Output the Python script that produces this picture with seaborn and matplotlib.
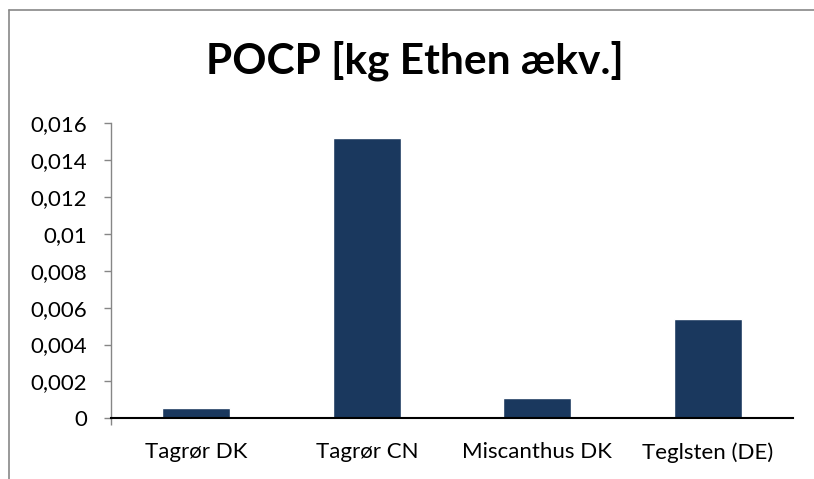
import numpy as np
import pandas as pd
import seaborn as sns
import matplotlib.pyplot as plt
from matplotlib.lines import Line2D

# data
categories = ["Tagrør DK", "Tagrør CN", "Miscanthus DK", "Teglsten (DE)"]
pocp_values = [0.00056, 0.0152, 0.00112, 0.00537]
y_ticks = [0, 0.002, 0.004, 0.006, 0.008, 0.01, 0.012, 0.014, 0.016]
y_tick_labels = ["0", "0,002", "0,004", "0,006", "0,008", "0,01", "0,012", "0,014", "0,016"]
title = "POCP [kg Ethen ækv.]"

bar_color = "#1a385e"
W, H = 814, 479

sns.set_style("white")
plt.rcParams["font.family"] = ["Lato", "DejaVu Sans"]

df = pd.DataFrame({"cat": categories, "val": pocp_values})

fig = plt.figure(figsize=(W / 100, H / 100), dpi=100)
ax = fig.add_axes([111 / W, 1 - 418.3 / H, (793 - 111) / W, (418.3 - 123.3) / H])

sns.barplot(data=df, x="cat", y="val", color=bar_color, width=0.4,
            saturation=1, ax=ax)

ax.set_ylim(0, 0.016)
ax.set_xlim(-0.5, len(categories) - 0.5)
ax.set_yticks(y_ticks)
ax.set_yticklabels(y_tick_labels)
ax.set_xlabel("")
ax.set_ylabel("")

for s in ["top", "right"]:
    ax.spines[s].set_visible(False)
ax.spines["left"].set_color("#868686")
ax.spines["left"].set_linewidth(1.0)
ax.spines["bottom"].set_color("black")
ax.spines["bottom"].set_linewidth(1.5)

ax.tick_params(axis="y", which="major", direction="out", length=5, width=1,
               color="#868686", labelsize=16, labelcolor="black", pad=12, left=True)
ax.tick_params(axis="x", which="major", length=0, labelsize=16,
               labelcolor="black", pad=17)
ax.set_xticks([-0.5], minor=True)
ax.tick_params(axis="x", which="minor", direction="out", length=5, width=1,
               color="#868686", bottom=True)

fig.text(415 / W, 1 - 61 / H, title, ha="center", va="center",
         fontsize=30.5, fontweight="bold", color="black")

# chart area border (clipped at right and bottom in the reference)
fig.add_artist(Line2D([9 / W, 9 / W], [0, 1 - 10 / H], color="#888888", lw=1.2,
                      transform=fig.transFigure))
fig.add_artist(Line2D([9 / W, 1], [1 - 10 / H, 1 - 10 / H], color="#888888", lw=1.2,
                      transform=fig.transFigure))

fig.savefig("out.png", dpi=100)
